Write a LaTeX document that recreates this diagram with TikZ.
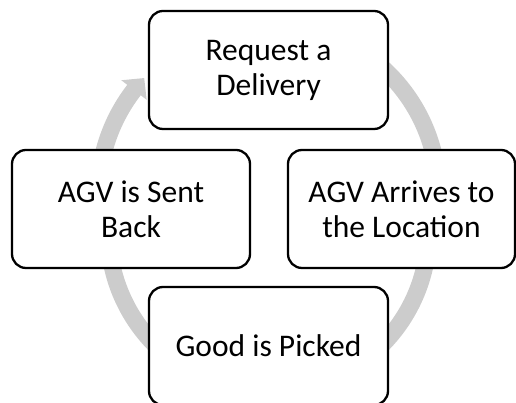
\documentclass[tikz,border=0pt]{standalone}
\usepackage{fontspec}
\setmainfont{Carlito}
\definecolor{ringgray}{RGB}{204,204,204}
\tikzset{
  stage/.style={draw=black, line width=2.3pt, rounded corners=14pt, fill=white,
    minimum height=118pt, align=center, inner sep=0pt,
    font=\fontsize{31.5}{35}\selectfont},
  ring/.style={draw=ringgray, line width=17pt}
}
\begin{document}
\begin{tikzpicture}[x=1pt,y=1pt]
\useasboundingbox (0,0) rectangle (516,403);
\clip (0,0) rectangle (516,403);
% centres of the upper and lower halves of the cycle ring
\coordinate (T) at (268.5,209);
\coordinate (B) at (268.5,171);
% ring segments
\draw[ring] ([shift={(60:170pt)}]T) arc[start angle=60, end angle=-10, radius=170pt];
\draw[ring] ([shift={(10:160pt)}]B) arc[start angle=10, end angle=-60, radius=160pt];
\draw[ring] ([shift={(240:160pt)}]B) arc[start angle=240, end angle=170, radius=160pt];
\draw[ring] ([shift={(190:170pt)}]T) arc[start angle=190, end angle=141.8, radius=170pt];
% arrow head closing the cycle
\fill[ringgray] ([shift={(142.3:186pt)}]T) -- ([shift={(137:170pt)}]T)
  -- ([shift={(142.3:154pt)}]T) -- cycle;
% stages
\node[stage, minimum width=239pt] (request) at (268.5,333) {Request a\\Delivery};
\node[stage, minimum width=227pt] (arrives) at (401.5,194) {AGV Arrives to\\the Location};
\node[stage, minimum width=239pt] (picked) at (268.5,57) {Good is Picked};
\node[stage, minimum width=238pt] (back) at (131,194) {AGV is Sent\\Back};
\end{tikzpicture}
\end{document}
